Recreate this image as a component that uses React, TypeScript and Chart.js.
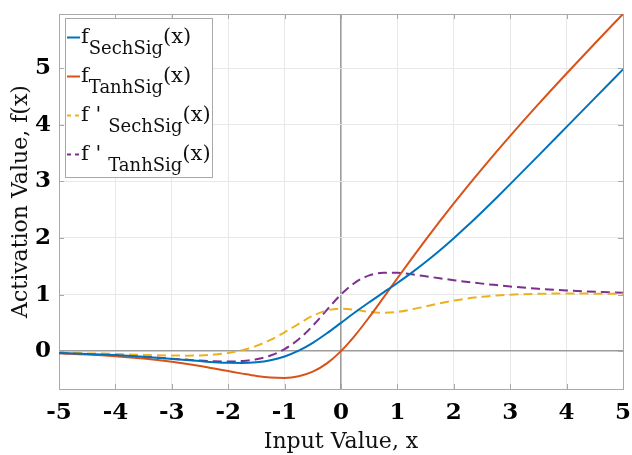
import React, { useEffect, useRef } from 'react';
import { Chart, registerables } from 'chart.js';

Chart.register(...registerables);

// x sample positions (input value)
const xValues = [-5, -4.5, -4, -3.5, -3, -2.75, -2.5, -2.25, -2, -1.75, -1.5, -1.25, -1, -0.75, -0.5, -0.25, 0, 0.25, 0.5, 0.75, 1, 1.25, 1.5, 1.75, 2, 2.25, 2.5, 2.75, 3, 3.5, 4, 4.5, 5];

// series values
const sechSig = [-0.033, -0.049, -0.071, -0.101, -0.138, -0.158, -0.177, -0.195, -0.207, -0.209, -0.196, -0.16, -0.095, 0.007, 0.146, 0.315, 0.5, 0.686, 0.863, 1.034, 1.205, 1.383, 1.574, 1.778, 1.996, 2.224, 2.461, 2.704, 2.952, 3.456, 3.964, 4.473, 4.98];
const tanhSig = [-0.04, -0.06, -0.09, -0.132, -0.189, -0.225, -0.264, -0.308, -0.353, -0.398, -0.439, -0.467, -0.474, -0.444, -0.363, -0.217, 0, 0.278, 0.599, 0.941, 1.288, 1.631, 1.966, 2.293, 2.611, 2.92, 3.222, 3.517, 3.806, 4.366, 4.909, 5.439, 5.96];
const dSechSig = [-0.026, -0.037, -0.051, -0.067, -0.079, -0.08, -0.076, -0.061, -0.032, 0.017, 0.092, 0.198, 0.332, 0.483, 0.623, 0.719, 0.75, 0.729, 0.693, 0.678, 0.694, 0.736, 0.79, 0.845, 0.893, 0.932, 0.962, 0.984, 0.998, 1.014, 1.017, 1.016, 1.013];
const dTanhSig = [-0.033, -0.049, -0.07, -0.099, -0.133, -0.15, -0.167, -0.179, -0.184, -0.175, -0.143, -0.078, 0.036, 0.21, 0.448, 0.728, 1.0, 1.212, 1.338, 1.386, 1.384, 1.358, 1.324, 1.288, 1.254, 1.222, 1.193, 1.167, 1.142, 1.102, 1.072, 1.049, 1.033];

// ticks
const xTicks = [-5, -4, -3, -2, -1, 0, 1, 2, 3, 4, 5];
const yTicks = [0, 1, 2, 3, 4, 5];

// legend text
const legendMain = ['f', 'f', "f '", "f '"];
const legendSub = ['SechSig', 'TanhSig', 'SechSig', 'TanhSig'];

const SERIF = '"DejaVu Serif", serif';
const FRAME = '#a8a8a8';

const framePlugin = {
  id: 'frameTicks',
  beforeDatasetsDraw(chart: any) {
    const { ctx, chartArea: ca, scales } = chart;
    ctx.save();
    ctx.strokeStyle = FRAME;
    ctx.lineWidth = 1;
    ctx.beginPath();
    ctx.moveTo(Math.round(ca.left) + 0.5, Math.round(ca.top) + 0.5);
    ctx.lineTo(Math.round(ca.right) + 0.5, Math.round(ca.top) + 0.5);
    ctx.lineTo(Math.round(ca.right) + 0.5, Math.round(ca.bottom) + 0.5);
    const tl = 5;
    xTicks.forEach((v) => {
      const px = Math.round(scales.x.getPixelForValue(v)) + 0.5;
      ctx.moveTo(px, ca.bottom);
      ctx.lineTo(px, ca.bottom - tl);
      ctx.moveTo(px, ca.top);
      ctx.lineTo(px, ca.top + tl);
    });
    yTicks.forEach((v) => {
      const py = Math.round(scales.y.getPixelForValue(v)) + 0.5;
      ctx.moveTo(ca.left, py);
      ctx.lineTo(ca.left + tl, py);
      ctx.moveTo(ca.right, py);
      ctx.lineTo(ca.right - tl, py);
    });
    ctx.stroke();
    ctx.restore();
  },
  afterDraw(chart: any) {
    const { ctx, chartArea: ca } = chart;
    const bx = Math.round(ca.left) + 6;
    const by = Math.round(ca.top) + 4;
    const bw = 147;
    const bh = 159;
    ctx.save();
    ctx.fillStyle = '#ffffff';
    ctx.fillRect(bx, by, bw, bh);
    ctx.strokeStyle = FRAME;
    ctx.lineWidth = 1;
    ctx.strokeRect(bx + 0.5, by + 0.5, bw, bh);
    const mainFont = `21px ${SERIF}`;
    const subFont = `18px ${SERIF}`;
    chart.data.datasets.forEach((ds: any, i: number) => {
      const base = by + 25 + i * 39;
      const ly = base - 5.5;
      ctx.strokeStyle = ds.borderColor;
      ctx.lineWidth = 2;
      ctx.setLineDash(ds.borderDash && ds.borderDash.length ? [4, 4] : []);
      ctx.beginPath();
      ctx.moveTo(bx + 2, ly);
      ctx.lineTo(bx + 15, ly);
      ctx.stroke();
      ctx.setLineDash([]);
      ctx.fillStyle = '#111';
      ctx.textBaseline = 'alphabetic';
      ctx.textAlign = 'left';
      let tx = bx + 16;
      ctx.font = mainFont;
      ctx.fillText(legendMain[i], tx, base);
      tx += ctx.measureText(legendMain[i]).width + (legendMain[i].length > 1 ? 7 : 0);
      ctx.font = subFont;
      ctx.fillText(legendSub[i], tx, base + 11);
      tx += ctx.measureText(legendSub[i]).width;
      ctx.font = mainFont;
      ctx.fillText('(x)', tx, base);
    });
    ctx.restore();
  },
};

const zeroPad = (s: any) => {
  s.paddingTop = 0;
  s.paddingBottom = 0;
  s.paddingLeft = 0;
  s.paddingRight = 0;
};

export default function App() {
  const ref = useRef<HTMLCanvasElement>(null);

  useEffect(() => {
    const canvas = ref.current;
    if (!canvas) return;
    const mk = (arr: number[]) => xValues.map((x, i) => ({ x, y: arr[i] }));
    const common = {
      pointRadius: 0,
      borderWidth: 2,
      fill: false,
      cubicInterpolationMode: 'monotone' as const,
    };
    const gridColor = (c: any) => (c.tick && c.tick.value === 0 ? '#9c9c9c' : '#e8e8e8');
    const gridWidth = (c: any) => (c.tick && c.tick.value === 0 ? 1.6 : 1);
    const tickFont = { family: SERIF, size: 23, weight: 'bold' as const };
    const chart = new Chart(canvas, {
      type: 'line',
      data: {
        datasets: [
          { ...common, label: 'fSechSig(x)', data: mk(sechSig), borderColor: '#0072BD' },
          { ...common, label: 'fTanhSig(x)', data: mk(tanhSig), borderColor: '#D95319' },
          { ...common, label: "f'SechSig(x)", data: mk(dSechSig), borderColor: '#EDB120', borderDash: [9, 5] },
          { ...common, label: "f'TanhSig(x)", data: mk(dTanhSig), borderColor: '#7E2F8E', borderDash: [9, 5] },
        ],
      },
      options: {
        responsive: false,
        maintainAspectRatio: false,
        devicePixelRatio: 1,
        animation: false,
        layout: { padding: { left: 0, right: 9, top: 14, bottom: 0 } },
        plugins: { legend: { display: false }, tooltip: { enabled: false } },
        scales: {
          x: {
            type: 'linear',
            min: -5,
            max: 5,
            afterBuildTicks: (s: any) => {
              s.ticks = xTicks.map((v) => ({ value: v }));
            },
            afterFit: (s: any) => {
              s.height = 66;
              zeroPad(s);
            },
            grid: { color: gridColor, lineWidth: gridWidth, drawTicks: false },
            border: { display: true, color: FRAME, width: 1 },
            ticks: { font: tickFont, color: '#000', padding: 10, maxRotation: 0, autoSkip: false },
            title: {
              display: true,
              text: 'Input Value, x',
              font: { family: SERIF, size: 22 },
              color: '#111',
              padding: { top: 0, bottom: 0 },
            },
          },
          y: {
            type: 'linear',
            min: -0.67,
            max: 5.96,
            afterBuildTicks: (s: any) => {
              s.ticks = yTicks.map((v) => ({ value: v }));
            },
            afterFit: (s: any) => {
              s.width = 59;
              zeroPad(s);
            },
            grid: { color: gridColor, lineWidth: gridWidth, drawTicks: false },
            border: { display: true, color: FRAME, width: 1 },
            ticks: { font: tickFont, color: '#000', padding: 8, autoSkip: false },
            title: {
              display: true,
              text: 'Activation Value, f(x)',
              font: { family: SERIF, size: 22 },
              color: '#111',
              padding: { top: 8, bottom: 0 },
            },
          },
        },
      },
      plugins: [framePlugin],
    });
    return () => chart.destroy();
  }, []);

  return (
    <canvas
      ref={ref}
      width={632}
      height={455}
      style={{ position: 'absolute', left: 0, top: 0, display: 'block' }}
    />
  );
}
